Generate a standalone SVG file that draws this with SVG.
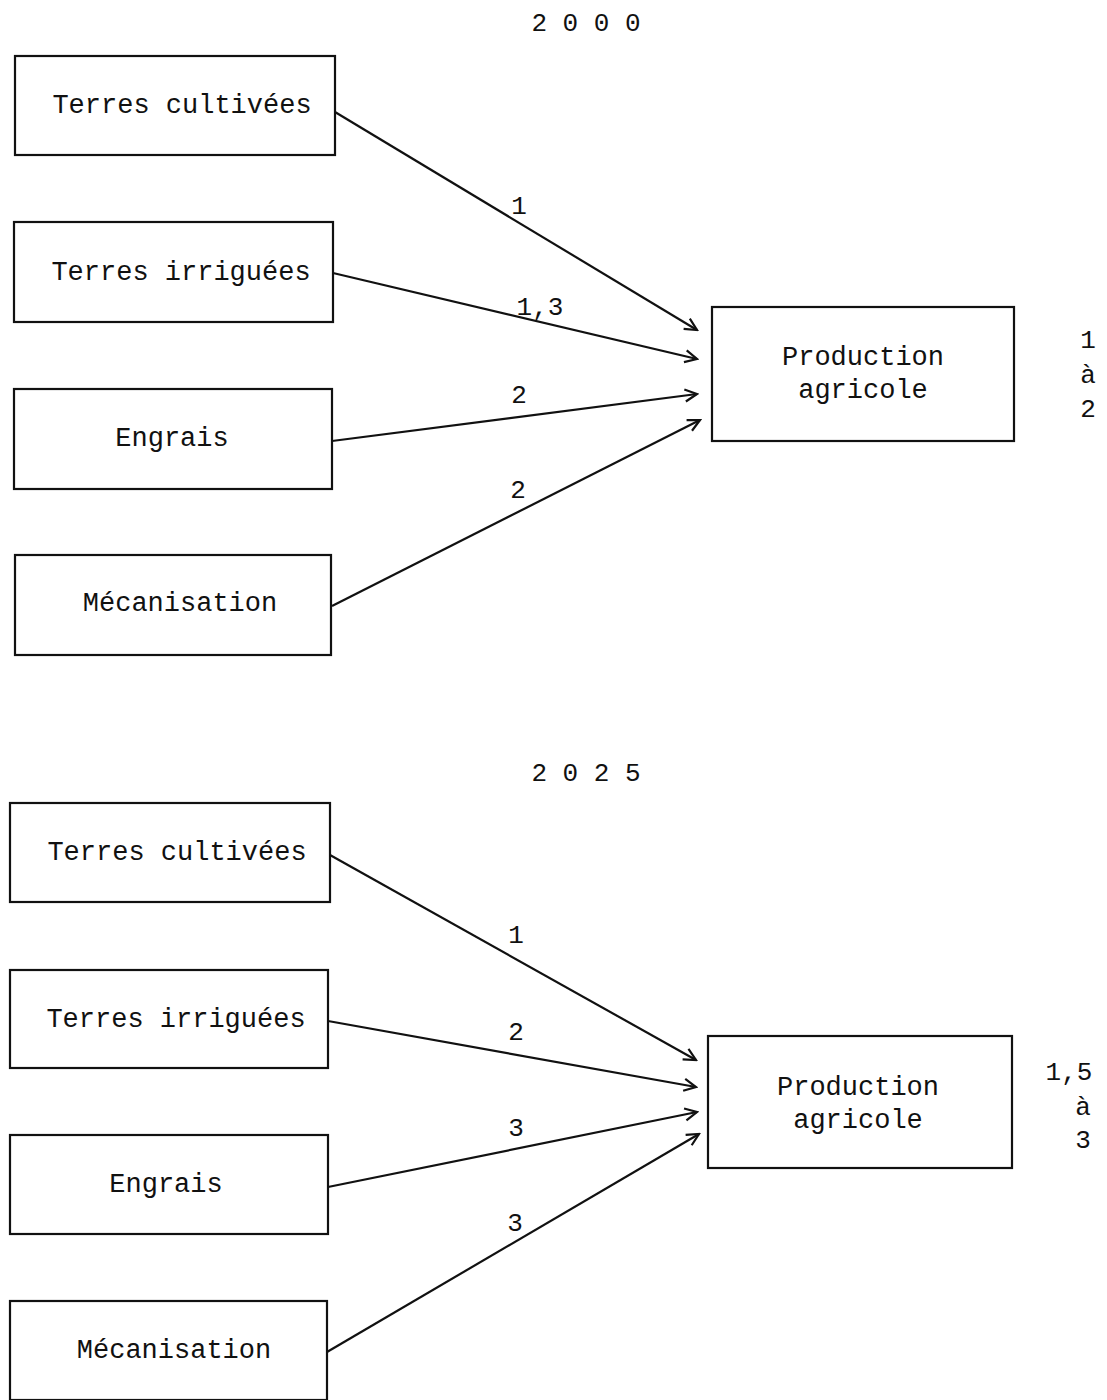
<svg xmlns="http://www.w3.org/2000/svg" width="1107" height="1400" viewBox="0 0 1107 1400">
<style>
.box{fill:none;stroke:#111;stroke-width:2.2}
.t{font-family:"Liberation Mono","DejaVu Sans Mono",monospace;font-size:27px;fill:#111}
.n{font-family:"Liberation Mono","DejaVu Sans Mono",monospace;font-size:26px;fill:#111;text-anchor:middle}
.c{text-anchor:middle}
.e{fill:none;stroke:#111;stroke-width:2.2;marker-end:url(#ah)}
</style>
<defs>
<marker id="ah" markerUnits="userSpaceOnUse" markerWidth="16" markerHeight="16" refX="14" refY="8" orient="auto">
<path d="M2,2 L14,8 L2,14" fill="none" stroke="#111" stroke-width="2.2"/>
</marker>
</defs>
<rect width="1107" height="1400" fill="#fff"/>
<text class="n" x="586" y="31">2 0 0 0</text>
<text class="n" x="586" y="781">2 0 2 5</text>

<g id="tc2000"><rect class="box" x="15" y="56" width="320" height="99"/><text class="t c" x="182" y="113">Terres cultivées</text></g>
<g id="ti2000"><rect class="box" x="14" y="222" width="319" height="100"/><text class="t c" x="181" y="280">Terres irriguées</text></g>
<g id="en2000"><rect class="box" x="14" y="389" width="318" height="100"/><text class="t c" x="172" y="446">Engrais</text></g>
<g id="me2000"><rect class="box" x="15" y="555" width="316" height="100"/><text class="t c" x="180" y="611">Mécanisation</text></g>
<g id="pa2000"><rect class="box" x="712" y="307" width="302" height="134"/><text class="t c" x="863" y="365">Production</text><text class="t c" x="863" y="398">agricole</text>
<text class="n" x="1088" y="348">1</text><text class="n" x="1088" y="383">à</text><text class="n" x="1088" y="417">2</text></g>

<g id="tc2025"><rect class="box" x="10" y="803" width="320" height="99"/><text class="t c" x="177" y="860">Terres cultivées</text></g>
<g id="ti2025"><rect class="box" x="10" y="970" width="318" height="98"/><text class="t c" x="176" y="1027">Terres irriguées</text></g>
<g id="en2025"><rect class="box" x="10" y="1135" width="318" height="99"/><text class="t c" x="166" y="1192">Engrais</text></g>
<g id="me2025"><rect class="box" x="10" y="1301" width="317" height="99"/><text class="t c" x="174" y="1358">Mécanisation</text></g>
<g id="pa2025"><rect class="box" x="708" y="1036" width="304" height="132"/><text class="t c" x="858" y="1095">Production</text><text class="t c" x="858" y="1128">agricole</text>
<text class="n" x="1069" y="1080">1,5</text><text class="n" x="1083" y="1115">à</text><text class="n" x="1083" y="1148">3</text></g>

<g id="connectors">
<line class="e" x1="335" y1="112" x2="697" y2="330"/>
<line class="e" x1="333" y1="273" x2="697" y2="359"/>
<line class="e" x1="332" y1="441" x2="697" y2="394"/>
<line class="e" x1="332" y1="606" x2="700" y2="420"/>
<text class="n" x="519" y="214">1</text>
<text class="n" x="540" y="315">1,3</text>
<text class="n" x="519" y="403">2</text>
<text class="n" x="518" y="498">2</text>

<line class="e" x1="330" y1="855" x2="696" y2="1060"/>
<line class="e" x1="328" y1="1021" x2="696" y2="1087"/>
<line class="e" x1="328" y1="1187" x2="697" y2="1112"/>
<line class="e" x1="327" y1="1352" x2="699" y2="1134"/>
<text class="n" x="516" y="943">1</text>
<text class="n" x="516" y="1040">2</text>
<text class="n" x="516" y="1136">3</text>
<text class="n" x="515" y="1231">3</text>
</g>
</svg>
